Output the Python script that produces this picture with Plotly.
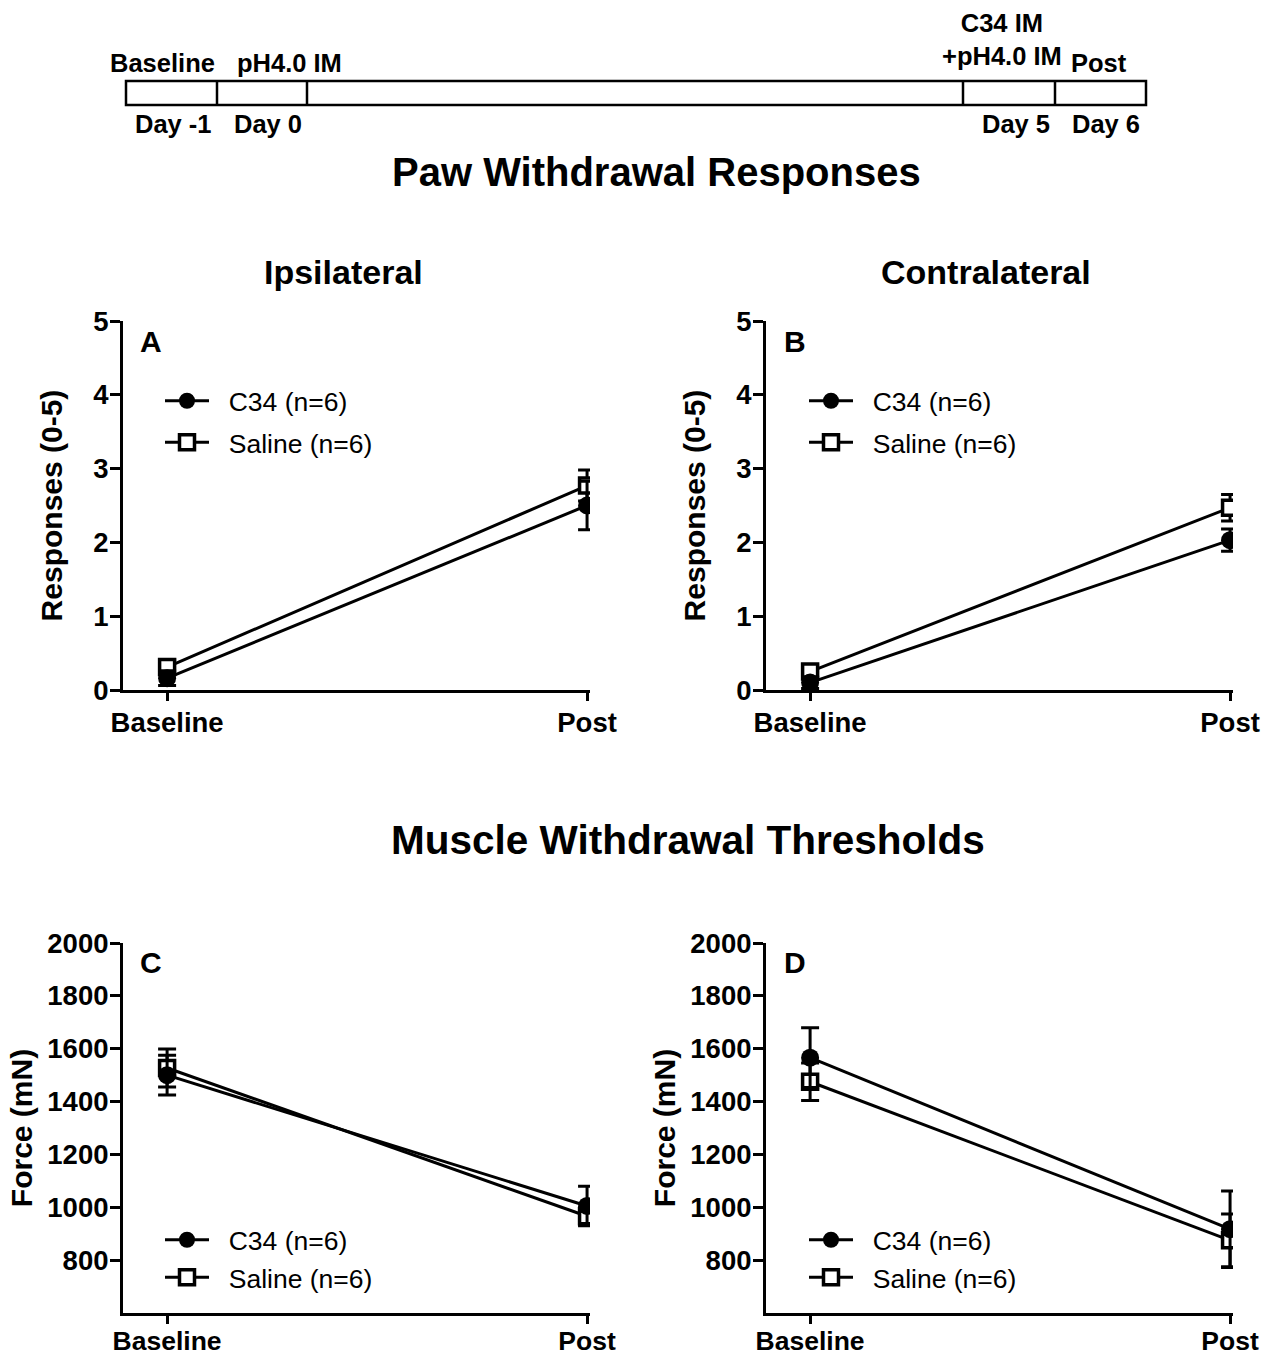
import plotly.graph_objects as go

W, H = 1277, 1359
FONT = "Arial, Liberation Sans, sans-serif"
NB = "\u00a0\u00a0"

# ---------------- data ----------------
timepoints = ["Baseline", "Post"]
series_names = ["C34 (n=6)", "Saline (n=6)"]

# Panel A – ipsilateral paw withdrawal responses (0-5)
ipsi_c34 = [0.16, 2.50]
ipsi_c34_err = [0.10, 0.33]
ipsi_sal = [0.31, 2.77]
ipsi_sal_err = [0.10, 0.21]

# Panel B – contralateral paw withdrawal responses (0-5)
contra_c34 = [0.10, 2.03]
contra_c34_err = [0.08, 0.15]
contra_sal = [0.25, 2.47]
contra_sal_err = [0.08, 0.18]

# Panel C – muscle withdrawal threshold, ipsilateral (mN)
mwt_ipsi_c34 = [1500, 1005]
mwt_ipsi_c34_err = [75, 75]
mwt_ipsi_sal = [1527, 966]
mwt_ipsi_sal_err = [72, 32]

# Panel D – muscle withdrawal threshold, contralateral (mN)
mwt_contra_c34 = [1566, 917]
mwt_contra_c34_err = [113, 145]
mwt_contra_sal = [1475, 875]
mwt_contra_sal_err = [71, 100]

resp_ticks = [0, 1, 2, 3, 4, 5]
force_ticks = [800, 1000, 1200, 1400, 1600, 1800, 2000]

# timeline
timeline_top_labels = ["Baseline", "pH4.0 IM", "C34 IM<br>+pH4.0 IM", "Post"]
timeline_day_labels = ["Day -1", "Day 0", "Day 5", "Day 6"]

# ---------------- helpers ----------------
def px(x):
    return x / W

def py(y):
    return 1 - y / H

xpos = [0, 1]

fig = go.Figure()

panels = [
    (ipsi_c34, ipsi_c34_err, ipsi_sal, ipsi_sal_err, "x", "y", "legend"),
    (contra_c34, contra_c34_err, contra_sal, contra_sal_err, "x2", "y2", "legend2"),
    (mwt_ipsi_c34, mwt_ipsi_c34_err, mwt_ipsi_sal, mwt_ipsi_sal_err, "x3", "y3", "legend3"),
    (mwt_contra_c34, mwt_contra_c34_err, mwt_contra_sal, mwt_contra_sal_err, "x4", "y4", "legend4"),
]

for i, (c34, c34e, sal, sale, xa, ya, lg) in enumerate(panels):
    grouped = i < 2
    fig.add_trace(go.Scatter(
        x=xpos, y=sal, xaxis=xa, yaxis=ya, name=NB + series_names[1], legend=lg,
        legendrank=2, legendgroup=("sal" + lg) if grouped else lg,
        mode="lines+markers",
        line=dict(color="black", width=3),
        marker=dict(symbol="square", size=15, color="white",
                    line=dict(color="black", width=3.5)),
        error_y=dict(type="data", array=sale, visible=True, color="black",
                     thickness=3, width=9),
    ))
    fig.add_trace(go.Scatter(
        x=xpos, y=c34, xaxis=xa, yaxis=ya, name=NB + series_names[0], legend=lg,
        legendrank=1, legendgroup=("c34" + lg) if grouped else lg,
        mode="lines+markers",
        line=dict(color="black", width=3),
        marker=dict(symbol="circle", size=18, color="black",
                    line=dict(color="black", width=0)),
        error_y=dict(type="data", array=c34e, visible=True, color="black",
                     thickness=3, width=9),
    ))

def tickfont(size):
    return dict(family=FONT, size=size, color="black", weight="bold")

axis_common = dict(
    showline=True, linecolor="black", linewidth=3, ticks="outside",
    tickwidth=3, tickcolor="black", showgrid=False, zeroline=False,
    automargin=False,
)
x_top = dict(ticklen=8, ticklabelstandoff=-2, tickfont=tickfont(27.5), **axis_common)
x_bot = dict(ticklen=8, ticklabelstandoff=-6, tickfont=tickfont(26.5), **axis_common)
y_common = dict(ticklen=10, ticklabelstandoff=-4, tickfont=tickfont(27.5), **axis_common)

xrange = [-0.105, 1.007]
left_dom = [px(123), px(590)]
right_dom = [px(766), px(1233)]
top_dom = [py(690), py(321)]
bot_dom = [py(1313), py(943)]

title_font = dict(family=FONT, size=30, color="black", weight="bold")

layout = dict(
    template="none",
    width=W, height=H, autosize=False,
    margin=dict(l=0, r=0, t=0, b=0, autoexpand=False),
    paper_bgcolor="white", plot_bgcolor="white",
    showlegend=True,
    xaxis=dict(domain=left_dom, anchor="y", range=xrange, tickvals=xpos, ticktext=timepoints, **x_top),
    xaxis2=dict(domain=right_dom, anchor="y2", range=xrange, tickvals=xpos, ticktext=timepoints, **x_top),
    xaxis3=dict(domain=left_dom, anchor="y3", range=xrange, tickvals=xpos, ticktext=timepoints, **x_bot),
    xaxis4=dict(domain=right_dom, anchor="y4", range=xrange, tickvals=xpos, ticktext=timepoints, **x_bot),
    yaxis=dict(domain=top_dom, anchor="x", range=[0, 5], tickvals=resp_ticks,
               title=dict(text="Responses (0-5)", font=title_font, standoff=22), **y_common),
    yaxis2=dict(domain=top_dom, anchor="x2", range=[0, 5], tickvals=resp_ticks,
                title=dict(text="Responses (0-5)", font=title_font, standoff=22), **y_common),
    yaxis3=dict(domain=bot_dom, anchor="x3", range=[600, 2000], tickvals=force_ticks,
                title=dict(text="Force (mN)", font=title_font, standoff=6), **y_common),
    yaxis4=dict(domain=bot_dom, anchor="x4", range=[600, 2000], tickvals=force_ticks,
                title=dict(text="Force (mN)", font=title_font, standoff=6), **y_common),
)

leg_common = dict(font=dict(family=FONT, size=26.5, color="black"), bgcolor="rgba(0,0,0,0)",
                  itemwidth=44, xanchor="left", yanchor="top", borderwidth=0)
layout["legend"] = dict(x=px(160), y=py(377), tracegroupgap=4, **leg_common)
layout["legend2"] = dict(x=px(804), y=py(377), tracegroupgap=4, **leg_common)
layout["legend3"] = dict(x=px(160), y=py(1216), tracegroupgap=0, **leg_common)
layout["legend4"] = dict(x=px(804), y=py(1216), tracegroupgap=0, **leg_common)

fig.update_layout(**layout)

ann = []
def text(t, x, y, size, bold=True):
    ann.append(dict(text=t, x=px(x), y=py(y), xref="paper", yref="paper",
                    showarrow=False, xanchor="center", yanchor="middle",
                    font=dict(family=FONT, size=size, color="black",
                              weight="bold" if bold else "normal")))

text("Paw Withdrawal Responses", 656, 172, 40)
text("Muscle Withdrawal Thresholds", 688, 840, 40.5)
text("Ipsilateral", 343, 272, 34)
text("Contralateral", 986, 272, 34)
for letter, x, y in [("A", 151, 341), ("B", 795, 341), ("C", 151, 963), ("D", 795, 963)]:
    text(letter, x, y, 30)

# timeline labels
tl_top_pos = [(162, 63), (289, 63), (1002, 40), (1099, 63)]
for t, (x, y) in zip(timeline_top_labels, tl_top_pos):
    text(t, x, y, 25.5)
tl_day_pos = [(173, 124), (268, 124), (1016, 124), (1106, 124)]
for t, (x, y) in zip(timeline_day_labels, tl_day_pos):
    text(t, x, y, 25.5)

fig.update_layout(annotations=ann)

shapes = [dict(type="rect", xref="paper", yref="paper", x0=px(126), x1=px(1146),
               y0=py(105), y1=py(81), line=dict(color="black", width=2.5))]
for xd in [217, 307, 963, 1055]:
    shapes.append(dict(type="line", xref="paper", yref="paper", x0=px(xd), x1=px(xd),
                       y0=py(105), y1=py(81), line=dict(color="black", width=2.5)))
fig.update_layout(shapes=shapes)

fig.write_html("out.html")
